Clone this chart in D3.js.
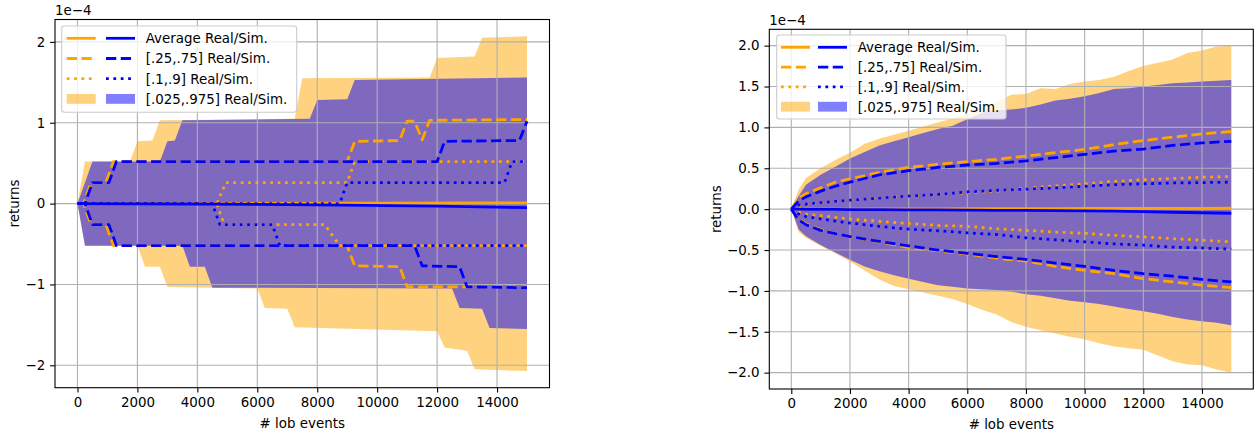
<!DOCTYPE html>
<html><head><meta charset="utf-8">
<script src="https://cdn.jsdelivr.net/npm/d3@7"></script>
<style>
body{margin:0;background:#fff}
svg{display:block}
text{font-family:"DejaVu Sans",sans-serif}
</style></head>
<body><svg id="c" width="1255" height="435"></svg>
<script>
// ---------- shared ----------
const xTicks = [0, 2000, 4000, 6000, 8000, 10000, 12000, 14000];
const leftYTicks = [-2, -1, 0, 1, 2];
const rightYTicks = [-2, -1.5, -1, -0.5, 0, 0.5, 1, 1.5, 2];
const legendLabels = ["Average Real/Sim.", "[.25,.75] Real/Sim.", "[.1,.9] Real/Sim.", "[.025,.975] Real/Sim."];
const xLabel = "# lob events";
const yLabel = "returns";
const scaleLabel = "1e\u22124";

// ---------- left panel ([x, y] breakpoints, y in units of 1e-4) ----------
const leftOrangeBandUpper = [[0,0],[250,0.52],[1750,0.52],[2000,0.77],[2500,0.78],[2750,1.03],[7250,1.05],[7500,1.55],[11750,1.56],[12000,1.80],[13250,1.82],[13500,2.05],[15000,2.07]];
const leftOrangeBandLower = [[0,0],[250,-0.52],[2000,-0.52],[2250,-0.78],[2750,-0.78],[3000,-1.03],[6000,-1.05],[6250,-1.29],[7000,-1.30],[7250,-1.53],[12000,-1.58],[12250,-1.78],[13000,-1.82],[13250,-2.05],[15000,-2.07]];
const leftBlueBandUpper = [[0,0],[500,0.52],[2750,0.52],[3000,0.77],[3250,0.78],[3500,1.03],[7750,1.05],[8000,1.28],[9000,1.29],[9250,1.53],[15000,1.56]];
const leftBlueBandLower = [[0,0],[250,-0.52],[3500,-0.52],[3750,-0.78],[4250,-0.78],[4500,-1.04],[12500,-1.05],[12750,-1.29],[13500,-1.30],[13750,-1.54],[15000,-1.55]];

const leftOrangeMean = [[0,0],[5000,0.002],[10000,0.005],[15000,0.01]];
const leftBlueMean = [[0,0],[4000,-0.005],[8000,-0.015],[12000,-0.03],[15000,-0.05]];
const leftOrangeQ75 = [[0,0],[200,0],[450,0.26],[950,0.26],[1200,0.52],[9000,0.52],[9250,0.77],[10750,0.78],[11000,1.02],[11250,1.02],[11500,0.79],[11750,1.03],[15000,1.04]];
const leftBlueQ75 = [[0,0],[250,0],[500,0.26],[1050,0.26],[1300,0.52],[12000,0.52],[12250,0.77],[14750,0.78],[15000,1.02]];
const leftOrangeQ25 = [[0,0],[200,0],[450,-0.26],[950,-0.26],[1200,-0.52],[9000,-0.52],[9250,-0.77],[10750,-0.78],[11000,-1.03],[15000,-1.03]];
const leftBlueQ25 = [[0,0],[250,0],[500,-0.26],[1050,-0.26],[1300,-0.52],[11250,-0.52],[11500,-0.77],[12750,-0.78],[13000,-1.03],[15000,-1.04]];
const leftOrangeQ90 = [[0,0],[4650,0],[4950,0.26],[9000,0.26],[9250,0.52],[15000,0.52]];
const leftBlueQ90 = [[0,0],[8750,0],[9000,0.26],[14250,0.26],[14500,0.52],[15000,0.52]];
const leftOrangeQ10 = [[0,0],[4650,0],[4900,-0.26],[8250,-0.26],[8750,-0.52],[15000,-0.52]];
const leftBlueQ10 = [[0,0],[4500,0],[4750,-0.26],[6500,-0.26],[6750,-0.52],[15000,-0.52]];

// ---------- right panel ----------
const rightBandX = [0,250,500,1000,1500,2000,2500,3000,3500,4000,4500,5000,5500,6000,6500,7000,7500,8000,8500,9000,9500,10000,10500,11000,11500,12000,12500,13000,13500,14000,14500,15000];
const rightOrangeBandUpper = [0,0.24,0.38,0.50,0.60,0.69,0.80,0.86,0.91,0.96,1.01,1.06,1.11,1.17,1.24,1.31,1.40,1.41,1.48,1.47,1.53,1.56,1.58,1.62,1.69,1.75,1.79,1.83,1.91,1.94,1.99,2.00];
const rightOrangeBandLower = [0,-0.28,-0.35,-0.45,-0.54,-0.64,-0.75,-0.86,-0.94,-0.98,-1.02,-1.06,-1.10,-1.16,-1.23,-1.29,-1.38,-1.44,-1.48,-1.52,-1.56,-1.59,-1.64,-1.68,-1.70,-1.72,-1.79,-1.86,-1.90,-1.91,-1.96,-2.00];
const rightBlueBandUpper = [0,0.16,0.30,0.42,0.52,0.62,0.70,0.78,0.83,0.88,0.93,0.98,1.02,1.10,1.18,1.21,1.22,1.24,1.28,1.33,1.35,1.38,1.42,1.47,1.48,1.50,1.52,1.54,1.55,1.56,1.57,1.58];
const rightBlueBandLower = [0,-0.25,-0.33,-0.44,-0.53,-0.62,-0.70,-0.76,-0.81,-0.85,-0.89,-0.93,-0.95,-0.97,-0.98,-0.99,-1.01,-1.04,-1.06,-1.09,-1.12,-1.14,-1.16,-1.19,-1.22,-1.25,-1.28,-1.32,-1.35,-1.37,-1.39,-1.42];

const rightX = [0,250,500,1000,1500,2000,3000,4000,5000,6000,7000,8000,9000,10000,11000,12000,13000,14000,15000];
const rightOrangeMean = [0,0,0,0,0,0,0.002,0.003,0.004,0.005,0.005,0.006,0.007,0.008,0.008,0.009,0.01,0.01,0.012];
const rightBlueMean = [0,0,-0.002,-0.003,-0.004,-0.005,-0.007,-0.008,-0.01,-0.012,-0.014,-0.016,-0.018,-0.02,-0.024,-0.03,-0.038,-0.044,-0.05];
const rightOrangeQ75 = [0,0.14,0.19,0.26,0.33,0.37,0.45,0.51,0.55,0.58,0.61,0.65,0.69,0.73,0.79,0.84,0.88,0.92,0.95];
const rightBlueQ75 = [0,0.10,0.15,0.22,0.28,0.33,0.42,0.47,0.51,0.54,0.56,0.59,0.63,0.67,0.71,0.735,0.78,0.81,0.83];
const rightOrangeQ90 = [0,0.03,0.05,0.08,0.095,0.11,0.14,0.16,0.18,0.20,0.22,0.255,0.285,0.31,0.34,0.36,0.375,0.39,0.40];
const rightBlueQ90 = [0,0.05,0.06,0.08,0.095,0.11,0.135,0.16,0.18,0.21,0.23,0.245,0.26,0.28,0.30,0.31,0.32,0.325,0.33];
const rightOrangeQ10 = [0,-0.04,-0.06,-0.08,-0.10,-0.12,-0.15,-0.175,-0.20,-0.21,-0.24,-0.26,-0.28,-0.295,-0.32,-0.34,-0.36,-0.38,-0.40];
const rightBlueQ10 = [0,-0.06,-0.09,-0.12,-0.145,-0.17,-0.21,-0.245,-0.265,-0.29,-0.31,-0.35,-0.375,-0.40,-0.425,-0.44,-0.465,-0.475,-0.49];
const rightOrangeQ25 = [0,-0.12,-0.18,-0.25,-0.30,-0.34,-0.40,-0.47,-0.51,-0.55,-0.60,-0.635,-0.70,-0.75,-0.79,-0.85,-0.89,-0.93,-0.96];
const rightBlueQ25 = [0,-0.13,-0.19,-0.26,-0.30,-0.335,-0.395,-0.45,-0.50,-0.54,-0.58,-0.615,-0.66,-0.70,-0.75,-0.79,-0.82,-0.86,-0.89];

// ---------- style ----------
const ORANGE = "#ffa500", BLUE = "#0000ff";
const FS = 13.4, LW = 2.78;
const DASH = "10.3,4.45", DOT = "2.78,4.6";

const zip = (xs, ys) => xs.map((x, i) => [x, ys[i]]);

const svg = d3.select("#c");

function panel(cfg) {
  const { L, R, T, B, yDomain, yTicks, yFmt, id } = cfg;
  const x = d3.scaleLinear().domain([-750, 15750]).range([L, R]);
  const y = d3.scaleLinear().domain(yDomain).range([B, T]);
  const g = svg.append("g");
  g.append("clipPath").attr("id", id).append("rect")
    .attr("x", L).attr("y", T).attr("width", R - L).attr("height", B - T);
  const plot = g.append("g").attr("clip-path", `url(#${id})`);
  const line = d3.line().x(d => x(d[0])).y(d => y(d[1]));

  // bands
  const band = (up, lo, col) => plot.append("path")
    .attr("d", line(up.concat(lo.slice().reverse())) + "Z")
    .attr("fill", col).attr("fill-opacity", 0.5).attr("stroke", "none");
  band(cfg.oBandUp, cfg.oBandLo, ORANGE);
  band(cfg.bBandUp, cfg.bBandLo, BLUE);

  // grid
  plot.append("g").selectAll("line").data(xTicks).join("line")
    .attr("x1", d => x(d)).attr("x2", d => x(d)).attr("y1", T).attr("y2", B)
    .attr("stroke", "#b0b0b0").attr("stroke-width", 1.1);
  plot.append("g").selectAll("line").data(yTicks).join("line")
    .attr("y1", d => y(d)).attr("y2", d => y(d)).attr("x1", L).attr("x2", R)
    .attr("stroke", "#b0b0b0").attr("stroke-width", 1.1);

  // lines
  const ln = (data, col, dash) => plot.append("path").attr("d", line(data))
    .attr("fill", "none").attr("stroke", col).attr("stroke-width", LW)
    .attr("stroke-dasharray", dash).attr("stroke-linejoin", "round").attr("stroke-linecap", "butt");
  ln(cfg.oMean, ORANGE, null);
  ln(cfg.oQ75, ORANGE, DASH); ln(cfg.oQ25, ORANGE, DASH);
  ln(cfg.oQ90, ORANGE, DOT); ln(cfg.oQ10, ORANGE, DOT);
  ln(cfg.bMean, BLUE, null);
  ln(cfg.bQ75, BLUE, DASH); ln(cfg.bQ25, BLUE, DASH);
  ln(cfg.bQ90, BLUE, DOT); ln(cfg.bQ10, BLUE, DOT);

  // axes
  const ax = g.append("g").attr("transform", `translate(0,${B})`)
    .call(d3.axisBottom(x).tickValues(xTicks).tickFormat(d3.format("d")).tickSize(4.9).tickPadding(4.9).tickSizeOuter(0));
  const ay = g.append("g").attr("transform", `translate(${L},0)`)
    .call(d3.axisLeft(y).tickValues(yTicks).tickFormat(yFmt).tickSize(4.9).tickPadding(4.9).tickSizeOuter(0));
  [ax, ay].forEach(a => {
    a.select(".domain").remove();
    a.attr("font-family", null).attr("font-size", null);
    a.selectAll("line").attr("stroke", "#000").attr("stroke-width", 1.1);
    a.selectAll("text").attr("fill", "#000").style("font-size", FS + "px");
  });

  // spines
  g.append("rect").attr("x", L).attr("y", T).attr("width", R - L).attr("height", B - T)
    .attr("fill", "none").attr("stroke", "#000").attr("stroke-width", 1.1);

  // labels
  g.append("text").attr("x", (L + R) / 2).attr("y", cfg.xlabY).attr("text-anchor", "middle")
    .style("font-size", FS + "px").text(xLabel);
  g.append("text").attr("transform", `translate(${cfg.ylabX},${(T + B) / 2}) rotate(-90)`)
    .attr("text-anchor", "middle").attr("dominant-baseline", "central")
    .style("font-size", FS + "px").text(yLabel);
  g.append("text").attr("x", L).attr("y", cfg.sciY).style("font-size", FS + "px").text(scaleLabel);

  // legend
  const lg = cfg.legend;
  g.append("rect").attr("x", lg.x).attr("y", lg.y).attr("width", lg.w).attr("height", lg.h)
    .attr("rx", 2.7).attr("fill", "#fff").attr("fill-opacity", 0.8)
    .attr("stroke", "#cccccc").attr("stroke-width", 1.1);
  const styles = [null, DASH, DOT, "fill"];
  legendLabels.forEach((lab, i) => {
    const cy = lg.row0 + i * lg.dy;
    [[lg.ox, ORANGE], [lg.bx, BLUE]].forEach(([hx, col]) => {
      if (styles[i] === "fill") {
        g.append("rect").attr("x", hx).attr("y", cy - 4.9).attr("width", 29).attr("height", 9.8)
          .attr("fill", col).attr("fill-opacity", 0.5);
      } else {
        g.append("line").attr("x1", hx).attr("x2", hx + 29).attr("y1", cy).attr("y2", cy)
          .attr("stroke", col).attr("stroke-width", LW).attr("stroke-dasharray", styles[i]);
      }
    });
    g.append("text").attr("x", lg.tx).attr("y", cy + 4.8).style("font-size", FS + "px").text(lab);
  });
}

panel({
  id: "clipL", L: 55, R: 549.5, T: 19.5, B: 387.7,
  yDomain: [-2.277, 2.277], yTicks: leftYTicks, yFmt: d3.format("d"),
  oBandUp: leftOrangeBandUpper, oBandLo: leftOrangeBandLower,
  bBandUp: leftBlueBandUpper, bBandLo: leftBlueBandLower,
  oMean: leftOrangeMean, bMean: leftBlueMean,
  oQ75: leftOrangeQ75, bQ75: leftBlueQ75, oQ25: leftOrangeQ25, bQ25: leftBlueQ25,
  oQ90: leftOrangeQ90, bQ90: leftBlueQ90, oQ10: leftOrangeQ10, bQ10: leftBlueQ10,
  xlabY: 428, ylabX: 14, sciY: 15,
  legend: { x: 61.7, y: 26, w: 235, h: 86.3, row0: 38.3, dy: 20.2, ox: 66.7, bx: 106, tx: 145.7 }
});

panel({
  id: "clipR", L: 769.3, R: 1253.3, T: 29.3, B: 389,
  yDomain: [-2.2, 2.2], yTicks: rightYTicks, yFmt: d3.format(".1f"),
  oBandUp: zip(rightBandX, rightOrangeBandUpper), oBandLo: zip(rightBandX, rightOrangeBandLower),
  bBandUp: zip(rightBandX, rightBlueBandUpper), bBandLo: zip(rightBandX, rightBlueBandLower),
  oMean: zip(rightX, rightOrangeMean), bMean: zip(rightX, rightBlueMean),
  oQ75: zip(rightX, rightOrangeQ75), bQ75: zip(rightX, rightBlueQ75),
  oQ25: zip(rightX, rightOrangeQ25), bQ25: zip(rightX, rightBlueQ25),
  oQ90: zip(rightX, rightOrangeQ90), bQ90: zip(rightX, rightBlueQ90),
  oQ10: zip(rightX, rightOrangeQ10), bQ10: zip(rightX, rightBlueQ10),
  xlabY: 429, ylabX: 716.5, sciY: 25,
  legend: { x: 776.7, y: 35, w: 229.3, h: 84, row0: 47.3, dy: 19.8, ox: 781, bx: 818, tx: 857.7 }
});
</script></body></html>
